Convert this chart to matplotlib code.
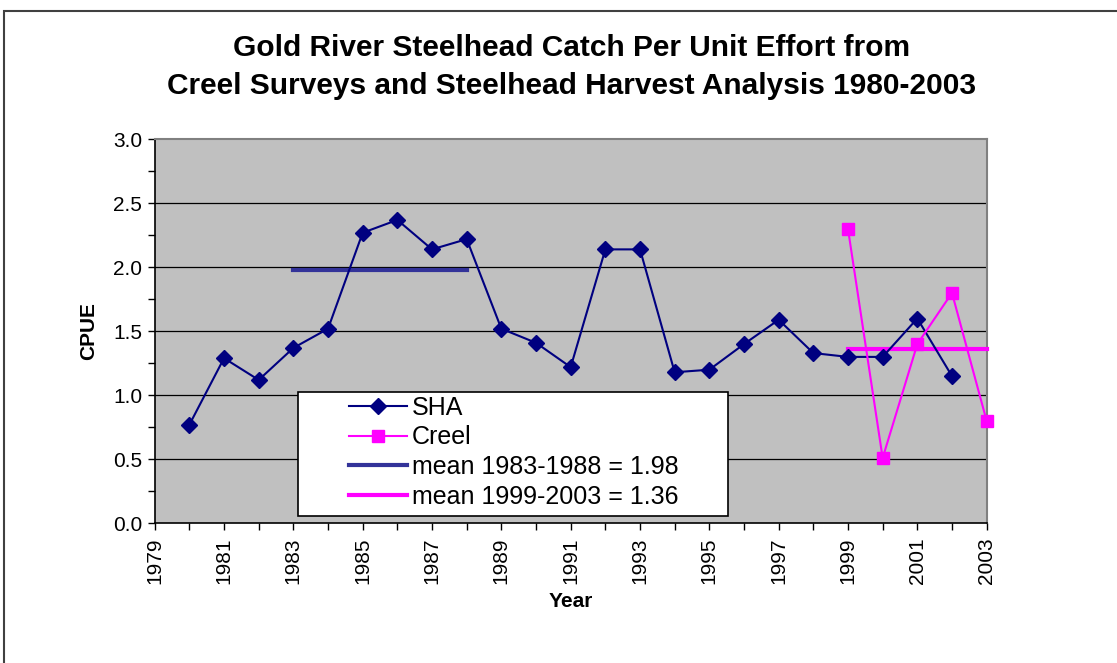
import matplotlib.pyplot as plt
import matplotlib.patches as patches
from matplotlib.ticker import MultipleLocator, FixedLocator

plt.rcParams['font.family'] = ['Liberation Sans', 'DejaVu Sans']

# SHA catch per unit effort 1980-2002
sha_years = list(range(1980, 2003))
sha_cpue = [0.77, 1.29, 1.12, 1.37, 1.52, 2.27, 2.37, 2.14, 2.22, 1.52, 1.41, 1.22,
            2.14, 2.14, 1.18, 1.20, 1.40, 1.59, 1.33, 1.30, 1.30, 1.60, 1.15]

# creel survey CPUE
creel_years = [1999, 2000, 2001, 2002, 2003]
creel_cpue = [2.30, 0.51, 1.40, 1.80, 0.80]

# period means
mean1_years = [1983, 1988]
mean1_value = 1.98
mean2_years = [1999, 2003]
mean2_value = 1.36

year_ticks = list(range(1979, 2004, 2))

fig = plt.figure(figsize=(11.17, 6.63), dpi=100)
ax = fig.add_axes([0.1385, 0.2107, 0.7448, 0.5792])

# outer chart border
fig.patches.append(patches.Rectangle((4 / 1117, -0.1), 1.2, 0.1 + (663 - 11) / 663,
                                     transform=fig.transFigure, fill=False,
                                     edgecolor='#404040', linewidth=1.5))

ax.set_facecolor('#C0C0C0')
for y in [0.5, 1.0, 1.5, 2.0, 2.5]:
    ax.axhline(y, color='black', linewidth=0.9, zorder=1)

ax.plot(sha_years, sha_cpue, color='#000080', marker='D', markersize=8,
        linewidth=1.5, label='SHA', zorder=4)
ax.plot(creel_years, creel_cpue, color='#FF00FF', marker='s', markersize=8,
        linewidth=1.5, label='Creel', zorder=5, clip_on=False)
ax.plot(mean1_years, [mean1_value] * 2, color='#333399', linewidth=3,
        label='mean 1983-1988 = 1.98', zorder=3)
ax.plot(mean2_years, [mean2_value] * 2, color='#FF00FF', linewidth=3,
        label='mean 1999-2003 = 1.36', zorder=3, clip_on=False)

ax.set_xlim(1979, 2003)
ax.set_ylim(0, 3.0)
ax.xaxis.set_major_locator(FixedLocator(year_ticks))
ax.xaxis.set_minor_locator(MultipleLocator(1))
ax.yaxis.set_major_locator(MultipleLocator(0.5))
ax.yaxis.set_minor_locator(MultipleLocator(0.25))
ax.yaxis.set_major_formatter(plt.FormatStrFormatter('%.1f'))
ax.tick_params(axis='both', which='both', direction='out', length=5, width=1,
               color='black', labelsize=15)
ax.tick_params(axis='x', which='major', pad=5, labelrotation=90)
ax.tick_params(axis='y', which='major', pad=4)

for s in ['top', 'right']:
    ax.spines[s].set_color('#808080')
    ax.spines[s].set_linewidth(1.5)
for s in ['left', 'bottom']:
    ax.spines[s].set_color('black')
    ax.spines[s].set_linewidth(1.2)

ax.set_xlabel('Year', fontsize=15, fontweight='bold', labelpad=6)
ax.set_ylabel('CPUE', fontsize=15, fontweight='bold', labelpad=11)

fig.text(0.512, 0.927, 'Gold River Steelhead Catch Per Unit Effort from',
         ha='center', va='center', fontsize=21.5, fontweight='bold')
fig.text(0.512, 0.871, 'Creel Surveys and Steelhead Harvest Analysis 1980-2003',
         ha='center', va='center', fontsize=21.5, fontweight='bold')

# legend box drawn separately so the padding matches
ax.add_patch(patches.Rectangle((298 / 1117, (663 - 516) / 663), 430 / 1117, 124 / 663,
                               transform=fig.transFigure, facecolor='white',
                               edgecolor='black', linewidth=1.2, zorder=9,
                               clip_on=False))
leg = ax.legend(loc='upper left', bbox_to_anchor=(349 / 1117, (663 - 396) / 663),
                bbox_transform=fig.transFigure, fontsize=18, frameon=False,
                handlelength=2.3, handletextpad=0.22, labelspacing=0.22,
                borderpad=0, borderaxespad=0)
leg.set_zorder(10)

fig.savefig('out.png', dpi=100)
